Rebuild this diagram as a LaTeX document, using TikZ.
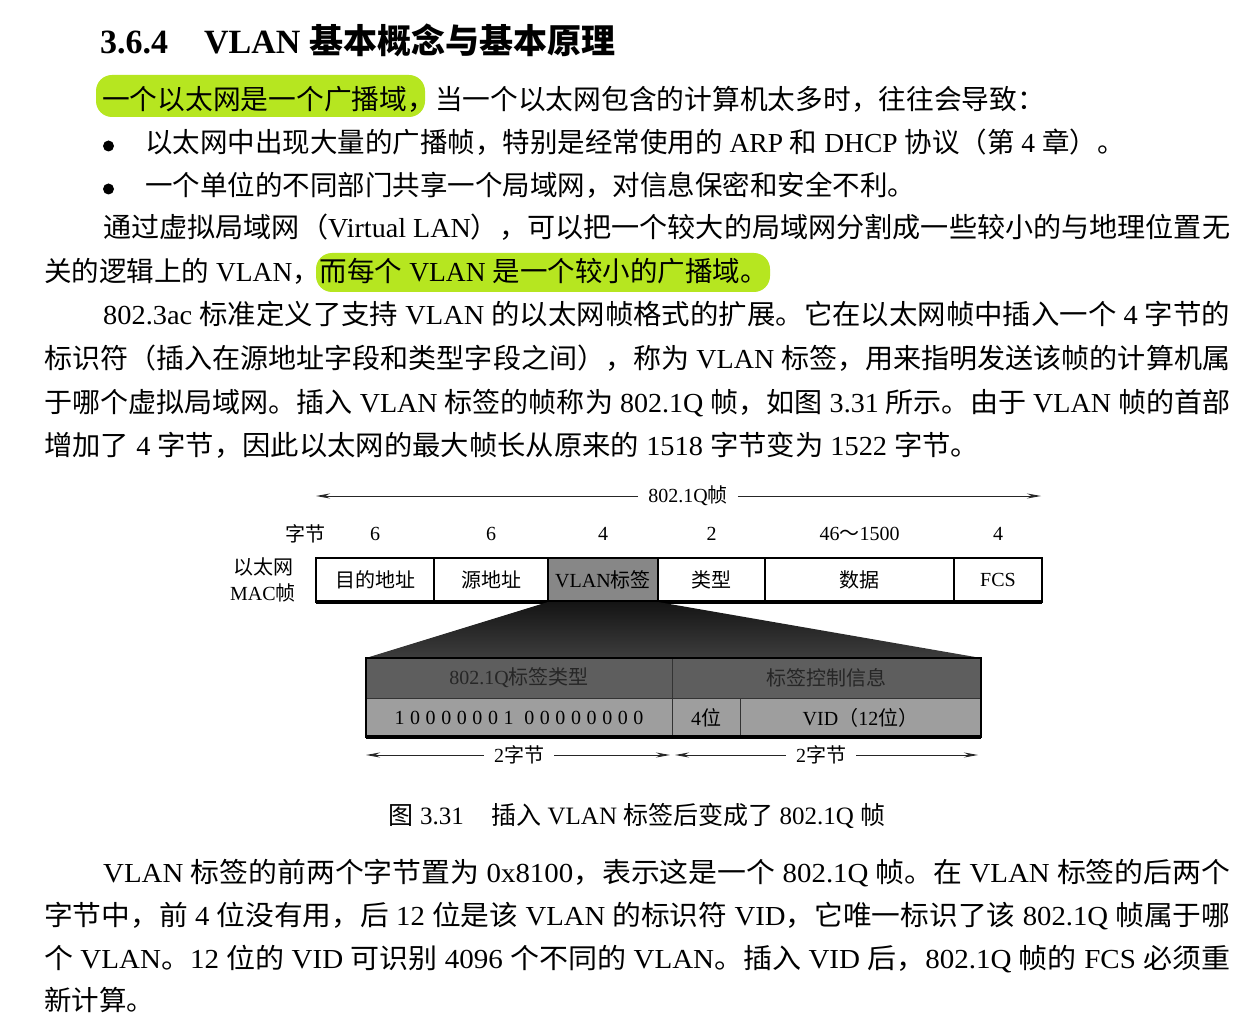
\documentclass[tikz,border=0pt]{standalone}
\usepackage{fontspec}
\usepackage{graphicx}
\setmainfont{Liberation Serif}
\newfontfamily\hanfont{Noto Sans CJK SC}
\usetikzlibrary{arrows.meta}
\definecolor{hlgreen}{RGB}{182,230,32}
\definecolor{tagfill}{gray}{0.53}
\definecolor{hdrfill}{gray}{0.37}
\definecolor{rowfill}{gray}{0.62}
% stretch one line of text to the measure
\newcommand\fitline[2]{\resizebox{#1pt}{\height}{#2}}

% Han characters and full-width punctuation go to the CJK face
\makeatletter
\XeTeXinterchartokenstate=1
\newXeTeXintercharclass\hanclass
\count@="2E80
\loop\ifnum\count@<"A000
  \XeTeXcharclass\count@=\hanclass
  \advance\count@\@ne
\repeat
\count@="FF00
\loop\ifnum\count@<"FFF0
  \XeTeXcharclass\count@=\hanclass
  \advance\count@\@ne
\repeat
\XeTeXinterchartoks 0 \hanclass = {\hanfont}
\XeTeXinterchartoks 4095 \hanclass = {\hanfont}
\XeTeXinterchartoks \hanclass 0 = {\rmfamily}
\XeTeXinterchartoks \hanclass 4095 = {\rmfamily}
\makeatother

\begin{document}
\begin{tikzpicture}[x=1pt,y=-1pt,
    body/.style={font=\fontsize{27.5}{33}\selectfont, inner sep=0pt, anchor=base west},
    dot/.style={circle, fill=black, inner sep=0pt, minimum size=11},
    lbl/.style={font=\fontsize{20}{26}\selectfont, inner sep=0pt},
    cell/.style={lbl, draw, line width=1.4pt, outer sep=0pt, minimum height=44, minimum width=#1},
    hdrcell/.style={lbl, draw=black!80, line width=1pt, outer sep=0pt, fill=hdrfill, text=black!85, minimum height=40, minimum width=#1},
    bitcell/.style={lbl, draw=black!80, line width=1pt, outer sep=0pt, fill=rowfill, minimum height=39, minimum width=#1},
    dimlbl/.style={lbl, inner xsep=10pt},
    dimarrow/.style={-{Stealth[length=14pt,width=5pt]}, line width=0.9pt, black!85},
]
\fill[white] (0,0) rectangle (1259,1019);
\useasboundingbox (0,0) rectangle (1259,1019);

% Title
\node[body, font=\fontsize{34}{40}\selectfont\bfseries] (title) at (100,54) {3.6.4\hspace{36pt}VLAN 基本概念与基本原理};

% Highlights
\fill[hlgreen, rounded corners=16] (96,75) rectangle (425,117);
\fill[hlgreen, rounded corners=16] (316,253) rectangle (770,292);

% Text above the figure
\node[body] (l1) at (102,110) {\fitline{943}{一个以太网是一个广播域，当一个以太网包含的计算机太多时，往往会导致：}};
\node[dot] (dot1) at (108.5,146) {};
\node[body] (l2) at (145,153) {以太网中出现大量的广播帧，特别是经常使用的 ARP 和 DHCP 协议（第 4 章）。};
\node[dot] (dot2) at (108.5,189) {};
\node[body] (l3) at (145,196) {一个单位的不同部门共享一个局域网，对信息保密和安全不利。};
\node[body] (l4) at (103,238) {\fitline{1127}{通过虚拟局域网（Virtual LAN），可以把一个较大的局域网分割成一些较小的与地理位置无}};
\node[body] (l5) at (44,282) {关的逻辑上的 VLAN，而每个 VLAN 是一个较小的广播域。};
\node[body] (l6) at (103,325) {\fitline{1127}{802.3ac 标准定义了支持 VLAN 的以太网帧格式的扩展。它在以太网帧中插入一个 4 字节的}};
\node[body] (l7) at (44,368) {\fitline{1186}{标识符（插入在源地址字段和类型字段之间），称为 VLAN 标签，用来指明发送该帧的计算机属}};
\node[body] (l8) at (44,412) {\fitline{1186}{于哪个虚拟局域网。插入 VLAN 标签的帧称为 802.1Q 帧，如图 3.31 所示。由于 VLAN 帧的首部}};
\node[body] (l9) at (44,455) {\fitline{935}{增加了 4 字节，因此以太网的最大帧长从原来的 1518 字节变为 1522 字节。}};

% Frame length
\coordinate (qL) at (316,496);
\coordinate (qR) at (1041,496);
\node[dimlbl] (qlbl) at (688,496) {802.1Q帧};
\draw[dimarrow] (qlbl) -- (qL);
\draw[dimarrow] (qlbl) -- (qR);

% Ethernet MAC frame
\node[lbl] (bytes) at (305,534) {字节};
\node[lbl, align=center] (maclbl) at (263,580) {以太网\\MAC帧};
\foreach \nm/\xa/\xb/\txt/\len/\fl in {dst/316/434/目的地址/6/white, src/434/548/源地址/6/white, tag/548/658/VLAN标签/4/tagfill, typ/658/765/类型/2/white, dat/765/954/数据/46～1500/white, fcs/954/1042/FCS/4/white} {
    \node[cell={\xb-\xa}, fill=\fl] (\nm) at ({(\xa+\xb)/2},580) {\txt};
    \node[lbl] (len-\nm) at ({(\xa+\xb)/2},534) {\len};
}
\draw[line width=2pt] (dst.north west) rectangle (fcs.south east);
\draw[line width=4pt] (dst.south west) -- (fcs.south east);

% VLAN tag
\node[hdrcell=306] (tpid) at (519,678) {802.1Q标签类型};
\node[hdrcell=309] (tci) at (826.5,678) {标签控制信息};
\node[bitcell=306] (bits) at (519,717.5) {\addfontfeatures{LetterSpace=28}10000001 00000000};
\node[bitcell=68] (pri) at (706,717.5) {4位};
\node[bitcell=241] (vid) at (860.5,717.5) {VID（12位）};
\shade[top color=black!92, bottom color=black!76] (tag.south west) -- (tag.south east) -- (tci.north east) -- (tpid.north west) -- cycle;
\draw[line width=2pt] (tpid.north west) rectangle (vid.south east);
\draw[line width=3.5pt] (bits.south west) -- (vid.south east);

% Two bytes each
\coordinate (bL) at (366,755);
\coordinate (bMl) at (670,755);
\coordinate (bMr) at (675,755);
\coordinate (bR) at (978,755);
\node[dimlbl] (b1) at (519,755) {2字节};
\node[dimlbl] (b2) at (821,755) {2字节};
\draw[dimarrow] (b1) -- (bL);
\draw[dimarrow] (b1) -- (bMl);
\draw[dimarrow] (b2) -- (bMr);
\draw[dimarrow] (b2) -- (bR);

% Caption
\node[font=\fontsize{25}{30}\selectfont, inner sep=0pt, anchor=base] (cap) at (637,824) {图 3.31\hspace{1.1em}插入 VLAN 标签后变成了 802.1Q 帧};

% Text below the figure
\node[body] (l10) at (103,882) {\fitline{1127}{VLAN 标签的前两个字节置为 0x8100，表示这是一个 802.1Q 帧。在 VLAN 标签的后两个}};
\node[body] (l11) at (44,925) {\fitline{1186}{字节中，前 4 位没有用，后 12 位是该 VLAN 的标识符 VID，它唯一标识了该 802.1Q 帧属于哪}};
\node[body] (l12) at (44,968) {\fitline{1186}{个 VLAN。12 位的 VID 可识别 4096 个不同的 VLAN。插入 VID 后，802.1Q 帧的 FCS 必须重}};
\node[body] (l13) at (44,1010) {新计算。};

\end{tikzpicture}
\end{document}
